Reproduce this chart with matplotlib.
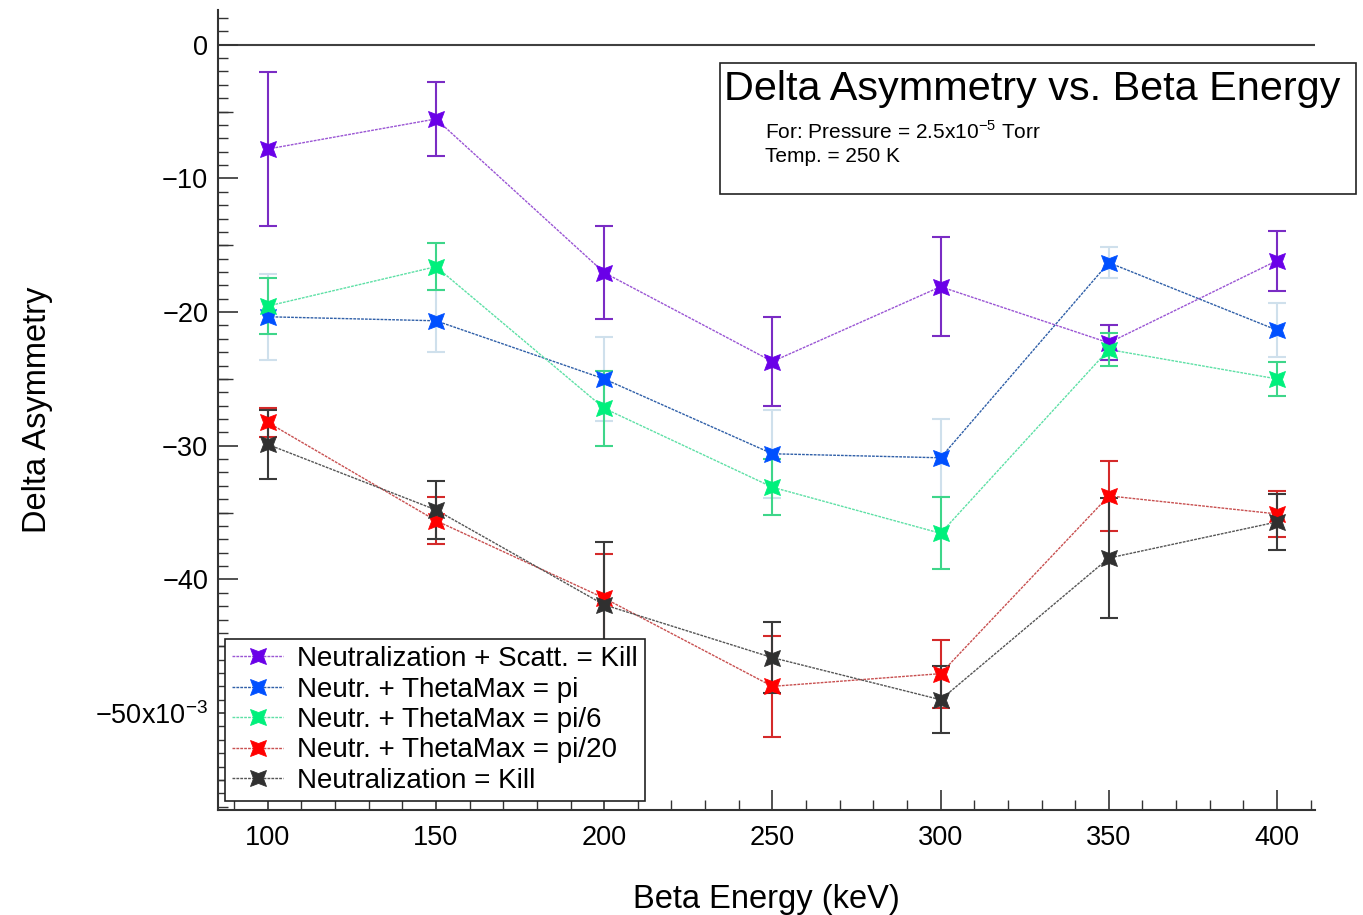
import numpy as np
import matplotlib
matplotlib.use("Agg")
import matplotlib.pyplot as plt
from matplotlib.path import Path
from matplotlib.patches import Rectangle
from matplotlib.ticker import MultipleLocator

plt.rcParams['font.family'] = ['Liberation Sans', 'DejaVu Sans']

# beta energy (keV)
energy = [100, 150, 200, 250, 300, 350, 400]

# delta asymmetry (x1e-3) and error bars
scatt_kill = [-7.8, -5.55, -17.05, -23.7, -18.1, -22.3, -16.15]
scatt_kill_err = [5.75, 2.8, 3.5, 3.3, 3.7, 1.3, 2.25]

theta_pi = [-20.35, -20.65, -25.0, -30.6, -30.9, -16.3, -21.35]
theta_pi_err = [3.2, 2.3, 3.15, 3.3, 2.9, 1.15, 2.0]

theta_pi6 = [-19.55, -16.6, -27.2, -33.1, -36.55, -22.8, -25.0]
theta_pi6_err = [2.1, 1.75, 2.8, 2.1, 2.7, 1.25, 1.3]

theta_pi20 = [-28.25, -35.6, -41.4, -48.0, -47.05, -33.75, -35.1]
theta_pi20_err = [1.1, 1.75, 3.3, 3.8, 2.55, 2.6, 1.75]

neut_kill = [-29.9, -34.8, -41.9, -45.85, -49.0, -38.4, -35.7]
neut_kill_err = [2.55, 2.2, 4.7, 2.65, 2.5, 4.5, 2.1]

labels = ['Neutralization + Scatt. = Kill', 'Neutr. + ThetaMax = pi',
          'Neutr. + ThetaMax = pi/6', 'Neutr. + ThetaMax = pi/20',
          'Neutralization = Kill']

ytick_vals = [-50, -40, -30, -20, -10, 0]
ytick_labels = ['\u221250x10$^{\\mathregular{-3}}$', '\u221240', '\u221230',
                '\u221220', '\u221210', '0']
xtick_vals = [100, 150, 200, 250, 300, 350, 400]

# colours: marker, error bar, cap, line
styles = [
    ('#6a00e8', '#7a2cc4', '#7a2cc4', '#9a55d4'),
    ('#0050ff', '#cfe0ec', '#8ea6c0', '#2f5fa8'),
    ('#00f07c', '#3ed68a', '#3ed68a', '#5ee0a6'),
    ('#ff0000', '#d42a2a', '#d42a2a', '#c85050'),
    ('#303030', '#3a3a3a', '#3a3a3a', '#555555'),
]

# concave-sided square marker
k = 0.62
star = Path([(1, 1), (0, k), (-1, 1), (-k, 0), (-1, -1), (0, -k),
             (1, -1), (k, 0), (1, 1)],
            [Path.MOVETO] + [Path.LINETO] * 7 + [Path.CLOSEPOLY])

fig = plt.figure(figsize=(13.63, 9.15), dpi=100)
ax = fig.add_axes([218 / 1363, 105 / 915, 1097 / 1363, 800 / 915])

series = [(scatt_kill, scatt_kill_err), (theta_pi, theta_pi_err),
          (theta_pi6, theta_pi6_err), (theta_pi20, theta_pi20_err),
          (neut_kill, neut_kill_err)]

handles = []
for (vals, errs), lab, (mc, ec, cc, lc) in zip(series, labels, styles):
    eb = ax.errorbar(energy, vals, yerr=errs, fmt='none', ecolor=ec,
                     elinewidth=1.5, capsize=6.8, capthick=1.5, zorder=2)
    for cap in eb[1]:
        cap.set_color(cc)
    ax.plot(energy, vals, color=lc, lw=1.0, ls=(0, (2, 0.8)), zorder=3)
    ax.plot(energy, vals, ls='none', marker=star, ms=11.5, mfc=mc, mec=mc,
            mew=0.6, zorder=4)
    h, = ax.plot([], [], color=lc, lw=1.0, ls=(0, (2, 0.8)), marker=star,
                 ms=11.5, mfc=mc, mec=mc, mew=0.6, label=lab)
    handles.append(h)

ax.axhline(0, color='#404040', lw=1.5, zorder=1)

ax.set_xlim(85.2, 411.3)
ax.set_ylim(-57.25, 2.6)

for s in ['top', 'right']:
    ax.spines[s].set_visible(False)
for s in ['left', 'bottom']:
    ax.spines[s].set_color('#333333')
    ax.spines[s].set_linewidth(1.5)

ax.set_xticks(xtick_vals)
ax.xaxis.set_minor_locator(MultipleLocator(10))
ax.set_yticks(ytick_vals)
ax.set_yticklabels(ytick_labels)
ax.yaxis.set_minor_locator(MultipleLocator(1))
ax.tick_params(which='major', direction='in', length=14.5, width=1.2,
               color='#333333', labelsize=19.5)
ax.tick_params(which='minor', direction='in', length=7.5, width=1.0,
               color='#333333')
ax.tick_params(axis='x', which='major', pad=10.5)
ax.tick_params(axis='y', which='major', pad=7)

# medium ticks at the fives
sec = ax.secondary_yaxis('left')
sec.set_yticks([-55, -45, -35, -25, -15, -5])
sec.tick_params(direction='in', length=11, width=1.0, color='#333333',
                labelleft=False)
sec.spines['left'].set_visible(False)

ax.set_xlabel('Beta Energy (keV)', fontsize=23.5)
ax.set_ylabel('Delta Asymmetry', fontsize=23.5)
ax.xaxis.set_label_coords(0.5, -0.093)
ax.yaxis.set_label_coords(-0.150, 0.5)

leg = ax.legend(handles=handles, loc='lower left',
                bbox_to_anchor=(0.0065, 0.0115), borderaxespad=0,
                fontsize=20, labelspacing=0.16, handlelength=1.85,
                handletextpad=0.5, borderpad=0.25, fancybox=False,
                framealpha=1, edgecolor='#222222')
leg.get_frame().set_linewidth(1.2)
leg.set_zorder(10)

# title box
fig.patches.append(Rectangle((720 / 1363, 1 - 194 / 915), 636 / 1363,
                             131 / 915, transform=fig.transFigure,
                             fill=False, edgecolor='#222222', lw=1.2))
fig.text(724 / 1363, 1 - 89 / 915, 'Delta Asymmetry vs. Beta Energy',
         fontsize=29.8, ha='left', va='center')
fig.text(765 / 1363, 1 - 132 / 915,
         'For: Pressure = 2.5x10$^{\\mathregular{-5}}$ Torr',
         fontsize=15, ha='left', va='center')
fig.text(765 / 1363, 1 - 156 / 915, 'Temp. = 250 K',
         fontsize=15, ha='left', va='center')

fig.savefig('out.png', dpi=100)
